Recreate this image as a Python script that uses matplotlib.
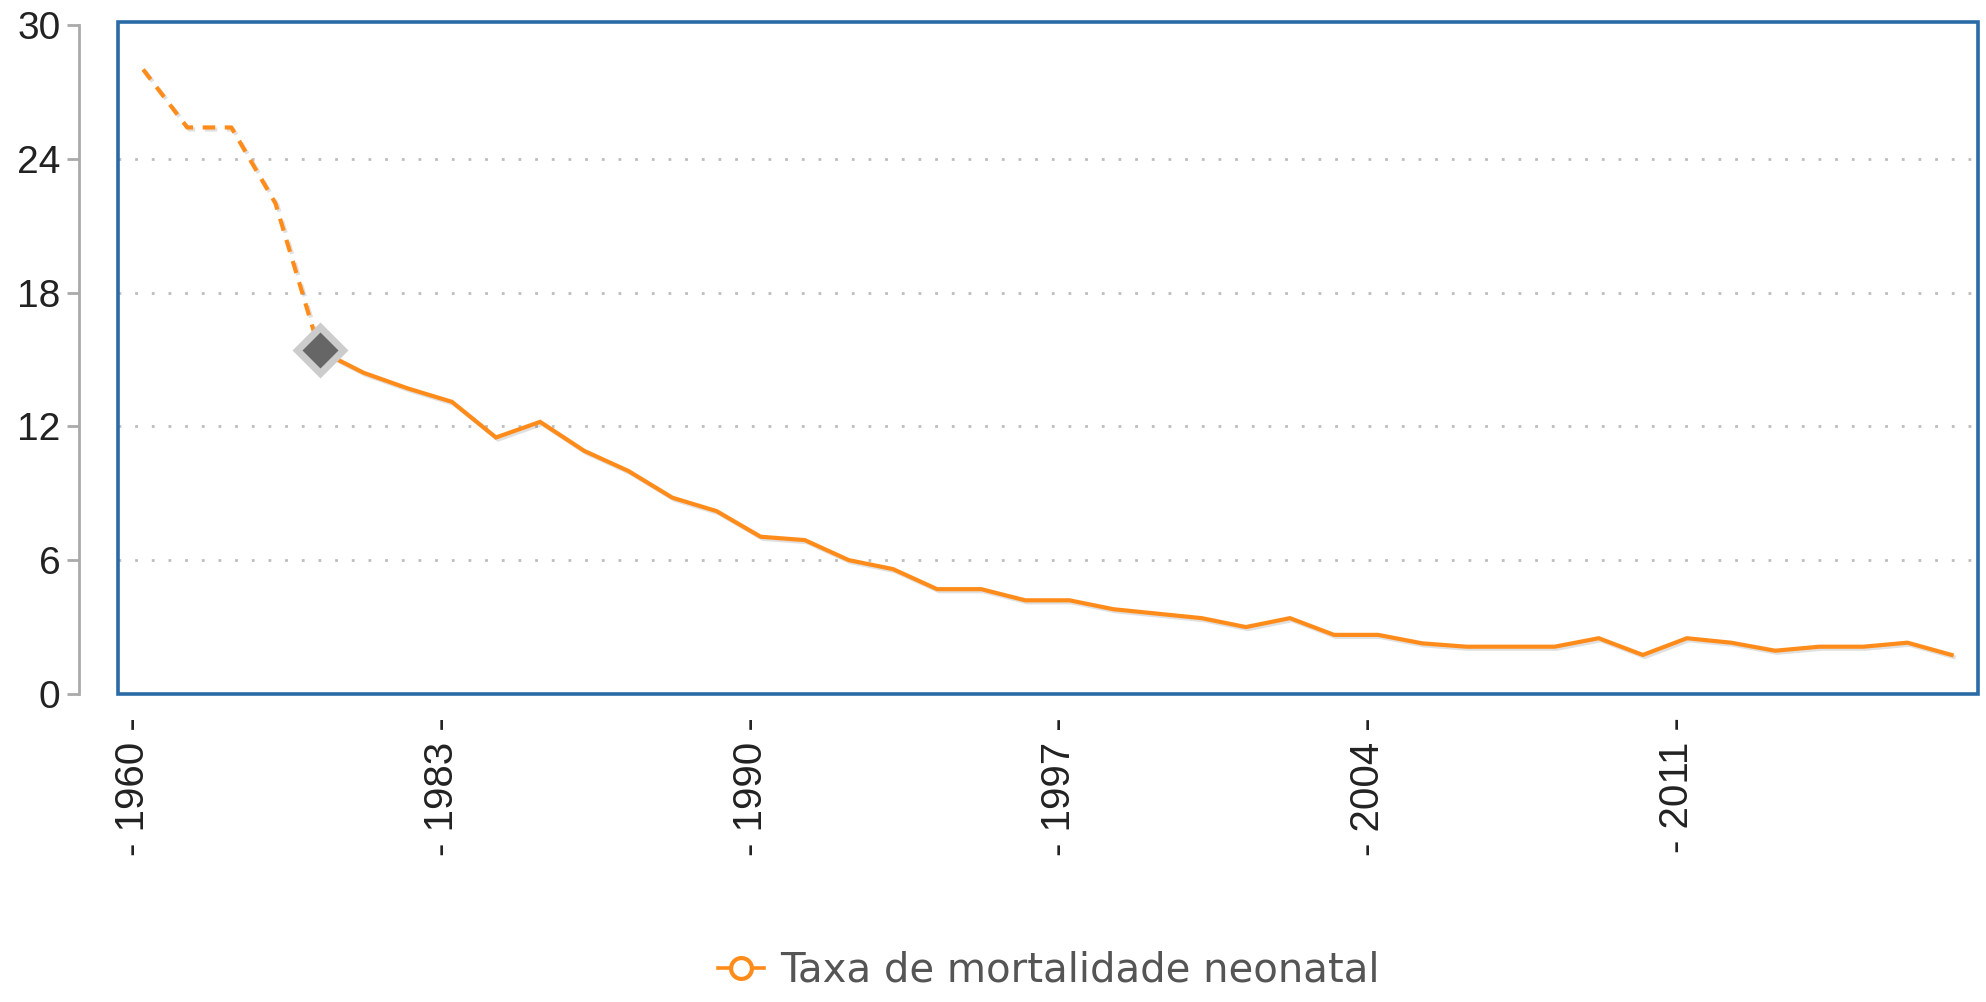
import matplotlib
matplotlib.use("Agg")
import matplotlib.pyplot as plt
import matplotlib.patheffects as pe
from matplotlib.patches import Rectangle
from matplotlib.lines import Line2D
from matplotlib.transforms import ScaledTranslation

# data
years = ["1960", "1965", "1970", "1975", "1980", "1981", "1982", "1983", "1984",
         "1985", "1986", "1987", "1988", "1989", "1990", "1991", "1992", "1993",
         "1994", "1995", "1996", "1997", "1998", "1999", "2000", "2001", "2002",
         "2003", "2004", "2005", "2006", "2007", "2008", "2009", "2010", "2011",
         "2012", "2013", "2014", "2015", "2016", "2017"]
rate = [28.0, 25.4, 25.4, 22.0, 15.4, 14.4, 13.7, 13.1, 11.5,
        12.2, 10.9, 10.0, 8.8, 8.2, 7.05, 6.9, 6.0, 5.6,
        4.7, 4.7, 4.2, 4.2, 3.8, 3.6, 3.4, 3.0, 3.4,
        2.65, 2.65, 2.27, 2.12, 2.12, 2.12, 2.5, 1.75, 2.5,
        2.3, 1.94, 2.12, 2.12, 2.3, 1.75]
sparse_until = 4          # dashed segment covers the 5-year samples
highlight_idx = 4
tick_years = ["1960", "1983", "1990", "1997", "2004", "2011"]
y_ticks = [0, 6, 12, 18, 24, 30]
series_name = "Taxa de mortalidade neonatal"

ORANGE = "#ff8c1a"
BLUE = "#2a6aa6"
AXIS_GRAY = "#aaaaaa"

fig = plt.figure(figsize=(19.86, 10.02), dpi=100)
ax = fig.add_axes([0.0594, 0.3074, 0.9366, 0.6707])

x = list(range(len(years)))
shadow = [pe.SimpleLineShadow(offset=(1.5, -1.5), shadow_color="black", alpha=0.12),
          pe.Normal()]

ax.plot(x[:sparse_until + 1], rate[:sparse_until + 1], color=ORANGE, lw=3,
        linestyle=(0, (3.0, 2.3)), path_effects=shadow, zorder=3)
ax.plot(x[sparse_until:], rate[sparse_until:], color=ORANGE, lw=3,
        solid_joinstyle="miter", path_effects=shadow, zorder=3)

# highlighted point
ax.plot(x[highlight_idx], rate[highlight_idx], marker="D", ms=29, color="#cccccc",
        mec="none", zorder=4)
ax.plot(x[highlight_idx], rate[highlight_idx], marker="D", ms=18.5, color="#666666",
        mec="none", zorder=5)

ax.set_xlim(-0.57, 41.6)
ax.set_ylim(0, 30.13)

# dotted grid (inner ticks only)
for v in y_ticks[1:-1]:
    ax.axhline(v, color="#bdbdbd", lw=2, linestyle=(0, (1, 5)), zorder=1)

for s in ["top", "right", "bottom"]:
    ax.spines[s].set_visible(False)
ax.spines["left"].set_position(("outward", 28))
ax.spines["left"].set_bounds(0, 30)
ax.spines["left"].set_color(AXIS_GRAY)
ax.spines["left"].set_linewidth(2)

ax.set_yticks(y_ticks)
ax.set_yticklabels([str(v) for v in y_ticks])
ax.tick_params(axis="y", direction="out", length=8.5, width=2, color=AXIS_GRAY,
               pad=5, labelsize=28, labelcolor="#222222")

ax.set_xticks([years.index(t) for t in tick_years])
ax.set_xticklabels([f"- {t} -" for t in tick_years], rotation=90)
ax.tick_params(axis="x", length=0, pad=17, labelsize=29, labelcolor="#222222")
shift = ScaledTranslation(-10 / 100, 0, fig.dpi_scale_trans)
for lab in ax.get_xticklabels():
    lab.set_transform(lab.get_transform() + shift)

for lab in ax.get_xticklabels() + ax.get_yticklabels():
    lab.set_family(["Liberation Sans", "DejaVu Sans"])

ax.add_patch(Rectangle((0, 0), 1, 1, transform=ax.transAxes, fill=False,
                       ec=BLUE, lw=2.6, clip_on=False, zorder=6))

handle = Line2D([], [], color=ORANGE, lw=2.6, marker="o", ms=15,
                mfc="white", mec=ORANGE, mew=3)
fig.legend([handle], [series_name], loc="center", bbox_to_anchor=(0.528, 0.031),
           frameon=False, handlelength=1.15, handletextpad=0.4,
           prop={"family": "DejaVu Sans", "size": 29}, labelcolor="#555555")

fig.savefig("out.png", dpi=100, facecolor="white")
